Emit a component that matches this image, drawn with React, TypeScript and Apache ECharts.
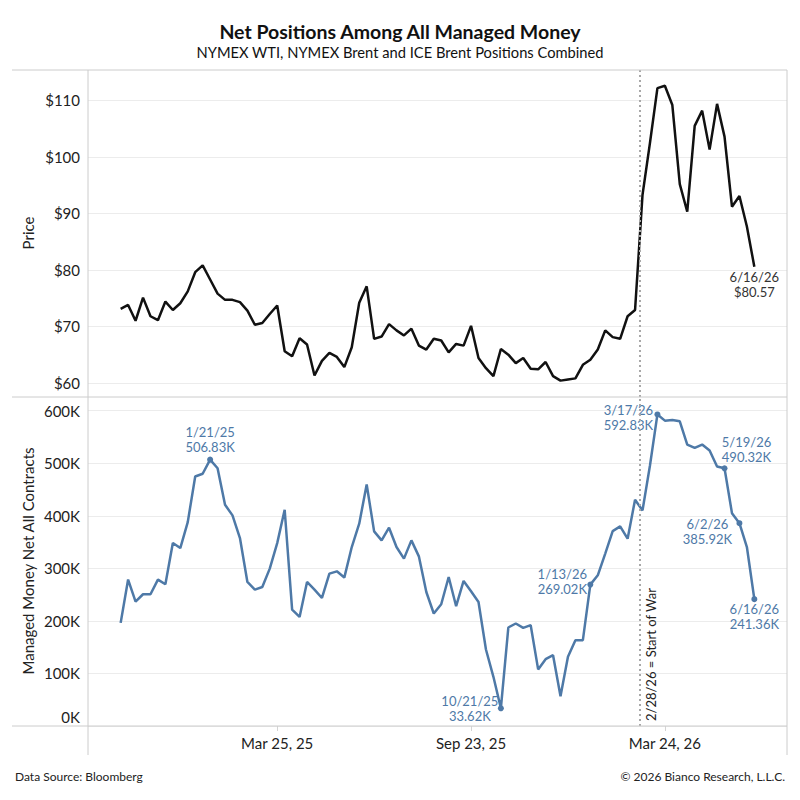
import { useEffect, useRef } from 'react'
import * as echarts from 'echarts'

const FONT = 'Lato, "Noto Sans", sans-serif'
const BLUE = '#4e79a7'
const INK = '#222222'

// weekly COT report Tuesdays, first one 10/29/24
const firstReport = [2024, 10, 29]

// front-month crude price, $ per barrel
const priceValues = [
  73.1, 73.8, 71.0, 75.1, 71.8, 71.1, 74.4, 72.9, 74.1, 76.2,
  79.6, 80.8, 78.3, 75.8, 74.7, 74.7, 74.3, 72.8, 70.3, 70.6,
  72.2, 73.7, 65.6, 64.7, 67.9, 66.8, 61.3, 63.9, 65.3, 64.6,
  62.8, 66.3, 74.2, 77.1, 67.8, 68.2, 70.4, 69.3, 68.4, 69.6,
  66.6, 65.9, 67.8, 67.5, 65.4, 66.9, 66.6, 70.1, 64.4, 62.6,
  61.2, 66.0, 65.0, 63.5, 64.4, 62.5, 62.4, 63.7, 61.2, 60.4,
  60.6, 60.8, 63.2, 64.1, 65.9, 69.3, 68.1, 67.8, 71.8, 72.9,
  93.3, 102.5, 112.2, 112.6, 109.2, 95.2, 90.3, 105.5, 108.2, 101.3,
  109.4, 103.6, 91.2, 93.1, 87.7, 80.57,
]

// managed money net, thousands of contracts
const netValues = [
  196.2, 278.6, 236.8, 250.7, 250.7, 278.6, 269.7, 348.1, 338.6, 388.0,
  474.7, 479.9, 506.83, 490.5, 421.0, 400.7, 357.6, 274.0, 259.6, 264.5,
  299.5, 348.0, 411.5, 221.6, 207.6, 274.0, 259.6, 243.6, 290.0, 294.3,
  282.4, 340.5, 385.0, 459.6, 370.3, 353.2, 377.3, 340.5, 318.5, 353.2,
  322.8, 255.0, 214.0, 231.7, 283.5, 227.9, 276.0, 256.4, 236.0, 145.6,
  93.6, 33.62, 187.4, 195.0, 186.7, 191.8, 107.7, 127.2, 134.8, 56.5,
  131.6, 163.3, 163.3, 269.02, 286.7, 328.0, 370.9, 379.8, 356.4, 430.5,
  410.2, 495.6, 592.83, 581.0, 582.4, 579.8, 535.5, 529.2, 535.5, 524.1,
  493.7, 490.32, 405.0, 385.92, 340.5, 241.36,
]

const xLabelDates = ['2025-03-25', '2025-09-23', '2026-03-24']
const priceTicks = [60, 70, 80, 90, 100, 110]
const netTicks = [0, 100, 200, 300, 400, 500, 600]
const warDate = '2026-02-28'
const warText = '2/28/26 = Start of War'
const priceCallouts = ['6/16/26']
const netCallouts = ['1/21/25', '10/21/25', '1/13/26', '3/17/26', '5/19/26', '6/2/26', '6/16/26']

// where each callout's text block sits, relative to its point (px)
const priceCalloutOffset: Record<string, [number, number]> = {
  '6/16/26': [0, 18],
}
const netCalloutOffset: Record<string, [number, number]> = {
  '1/21/25': [0, -20],
  '10/21/25': [-31, 0],
  '1/13/26': [-28, -3],
  '3/17/26': [-29, 3],
  '5/19/26': [22, -19],
  '6/2/26': [-32, 8],
  '6/16/26': [0, 17],
}

const MONTHS = ['Jan', 'Feb', 'Mar', 'Apr', 'May', 'Jun', 'Jul', 'Aug', 'Sep', 'Oct', 'Nov', 'Dec']

function ts(iso: string): number {
  const [y, m, d] = iso.split('-').map(Number)
  return new Date(y, m - 1, d).getTime()
}

function shortDate(t: number): string {
  const d = new Date(t)
  return `${d.getMonth() + 1}/${d.getDate()}/${String(d.getFullYear()).slice(2)}`
}

function axisDate(t: number): string {
  const d = new Date(t)
  return `${MONTHS[d.getMonth()]} ${d.getDate()}, ${String(d.getFullYear()).slice(2)}`
}

const weekDates = priceValues.map((_, i) =>
  new Date(firstReport[0], firstReport[1] - 1, firstReport[2] + 7 * i).getTime(),
)

const X_MIN = new Date(2024, 8, 28, 8).getTime()
const X_MAX = new Date(2026, 6, 16, 16).getTime()

function buildOption() {
  const calloutLabel = {
    show: true,
    position: 'inside',
    align: 'center',
    verticalAlign: 'middle',
    fontFamily: FONT,
    fontSize: 13,
    lineHeight: 15,
  }

  const priceData = weekDates.map((t, i) => {
    const key = shortDate(t)
    if (!priceCallouts.includes(key)) return [t, priceValues[i]]
    return {
      value: [t, priceValues[i]],
      label: {
        ...calloutLabel,
        color: '#333',
        offset: priceCalloutOffset[key],
        formatter: `${key}\n$${priceValues[i].toFixed(2)}`,
      },
    }
  })

  const netData = weekDates.map((t, i) => {
    const key = shortDate(t)
    if (!netCallouts.includes(key)) return [t, netValues[i]]
    return {
      value: [t, netValues[i]],
      symbolSize: 6,
      label: {
        ...calloutLabel,
        color: BLUE,
        offset: netCalloutOffset[key],
        formatter: `${key}\n${netValues[i].toFixed(2)}K`,
      },
    }
  })

  const xTicks = xLabelDates.map(ts)
  const warLine = {
    silent: true,
    symbol: ['none', 'none'],
    lineStyle: { color: '#a8a8a8', width: 2, type: [2, 3] },
    emphasis: { disabled: true },
  }
  const axisText = { fontFamily: FONT, fontSize: 15, color: INK }
  const frame = '#cccccc'
  const hLine = (y: number) => ({
    type: 'line',
    silent: true,
    z: 10,
    shape: { x1: 12, y1: y, x2: 787, y2: y },
    style: { stroke: frame, lineWidth: 1 },
  })
  const vLine = (x: number) => ({
    type: 'line',
    silent: true,
    z: 10,
    shape: { x1: x, y1: 70, x2: x, y2: 755 },
    style: { stroke: frame, lineWidth: 1 },
  })

  return {
    animation: false,
    textStyle: { fontFamily: FONT },
    grid: [
      { left: 88, right: 13, top: 70, height: 327 },
      { left: 88, right: 13, top: 397, height: 329 },
    ],
    xAxis: [
      { type: 'value', gridIndex: 0, min: X_MIN, max: X_MAX, show: false, splitLine: { show: false } },
      {
        type: 'value',
        gridIndex: 1,
        min: X_MIN,
        max: X_MAX,
        axisLine: { show: false },
        axisTick: { show: true, customValues: xTicks, length: 5, lineStyle: { color: '#d4d4d4' } },
        axisLabel: { ...axisText, customValues: xTicks, margin: 9, formatter: (v: number) => axisDate(v) },
        splitLine: { show: false },
      },
    ],
    yAxis: [
      {
        type: 'value',
        gridIndex: 0,
        min: 57.5,
        max: 115.4,
        axisLine: { show: false },
        axisTick: { show: false, customValues: priceTicks },
        axisLabel: { ...axisText, customValues: priceTicks, margin: 8, formatter: (v: number) => `$${v}` },
        splitLine: { show: true, lineStyle: { color: '#ececec', width: 1 } },
      },
      {
        type: 'value',
        gridIndex: 1,
        min: 0,
        max: 626,
        axisLine: { show: false },
        axisTick: { show: false, customValues: netTicks },
        axisLabel: {
          ...axisText,
          customValues: netTicks,
          margin: 8,
          formatter: (v: number) => (v === 0 ? '{z|0K}' : `${v}K`),
          rich: { z: { ...axisText, padding: [0, 0, 18, 0] } },
        },
        splitLine: { show: true, lineStyle: { color: '#ececec', width: 1 } },
      },
    ],
    series: [
      {
        name: 'Price',
        type: 'line',
        xAxisIndex: 0,
        yAxisIndex: 0,
        data: priceData,
        symbol: 'circle',
        symbolSize: 0,
        showSymbol: true,
        showAllSymbol: true,
        lineStyle: { color: '#111111', width: 2.5 },
        itemStyle: { color: '#111111' },
        emphasis: { disabled: true },
        markLine: { ...warLine, label: { show: false }, data: [{ xAxis: ts(warDate) }] },
      },
      {
        name: 'Managed Money Net All Contracts',
        type: 'line',
        xAxisIndex: 1,
        yAxisIndex: 1,
        data: netData,
        symbol: 'circle',
        symbolSize: 0,
        showSymbol: true,
        showAllSymbol: true,
        lineStyle: { color: BLUE, width: 2.5 },
        itemStyle: { color: BLUE },
        emphasis: { disabled: true },
        markLine: {
          ...warLine,
          label: {
            show: true,
            formatter: warText,
            position: 'insideStartBottom',
            fontFamily: FONT,
            fontSize: 13,
            color: INK,
            distance: 5,
          },
          data: [{ xAxis: ts(warDate) }],
        },
      },
    ],
    graphic: [
      hLine(70),
      hLine(397),
      hLine(726),
      vLine(88),
      vLine(787),
      {
        type: 'text',
        x: 400,
        y: 31,
        style: { text: 'Net Positions Among All Managed Money', fontFamily: FONT, fontWeight: 'bold', fontSize: 19.5, fill: '#111', align: 'center', verticalAlign: 'middle' },
      },
      {
        type: 'text',
        x: 400,
        y: 52,
        style: { text: 'NYMEX WTI, NYMEX Brent and ICE Brent Positions Combined', fontFamily: FONT, fontSize: 14.7, fill: '#111', align: 'center', verticalAlign: 'middle' },
      },
      {
        type: 'text',
        x: 28,
        y: 233,
        rotation: Math.PI / 2,
        style: { text: 'Price', fontFamily: FONT, fontSize: 15, fill: INK, align: 'center', verticalAlign: 'middle' },
      },
      {
        type: 'text',
        x: 28,
        y: 561,
        rotation: Math.PI / 2,
        style: { text: 'Managed Money Net All Contracts', fontFamily: FONT, fontSize: 15, fill: INK, align: 'center', verticalAlign: 'middle' },
      },
      {
        type: 'text',
        x: 15,
        y: 776,
        style: { text: 'Data Source: Bloomberg', fontFamily: FONT, fontSize: 12, fill: '#222', align: 'left', verticalAlign: 'middle' },
      },
      {
        type: 'text',
        x: 785,
        y: 776,
        style: { text: '\u00a9 2026 Bianco Research, L.L.C.', fontFamily: FONT, fontSize: 12, fill: '#222', align: 'right', verticalAlign: 'middle' },
      },
    ],
  }
}

export default function App() {
  const hostRef = useRef<HTMLDivElement | null>(null)

  useEffect(() => {
    document.body.style.margin = '0'
    const host = hostRef.current
    if (!host) return
    const chart = echarts.init(host, undefined, { renderer: 'svg' })
    chart.setOption(buildOption() as any)
    return () => {
      chart.dispose()
    }
  }, [])

  return <div ref={hostRef} style={{ width: 800, height: 800, background: '#fff' }} />
}
